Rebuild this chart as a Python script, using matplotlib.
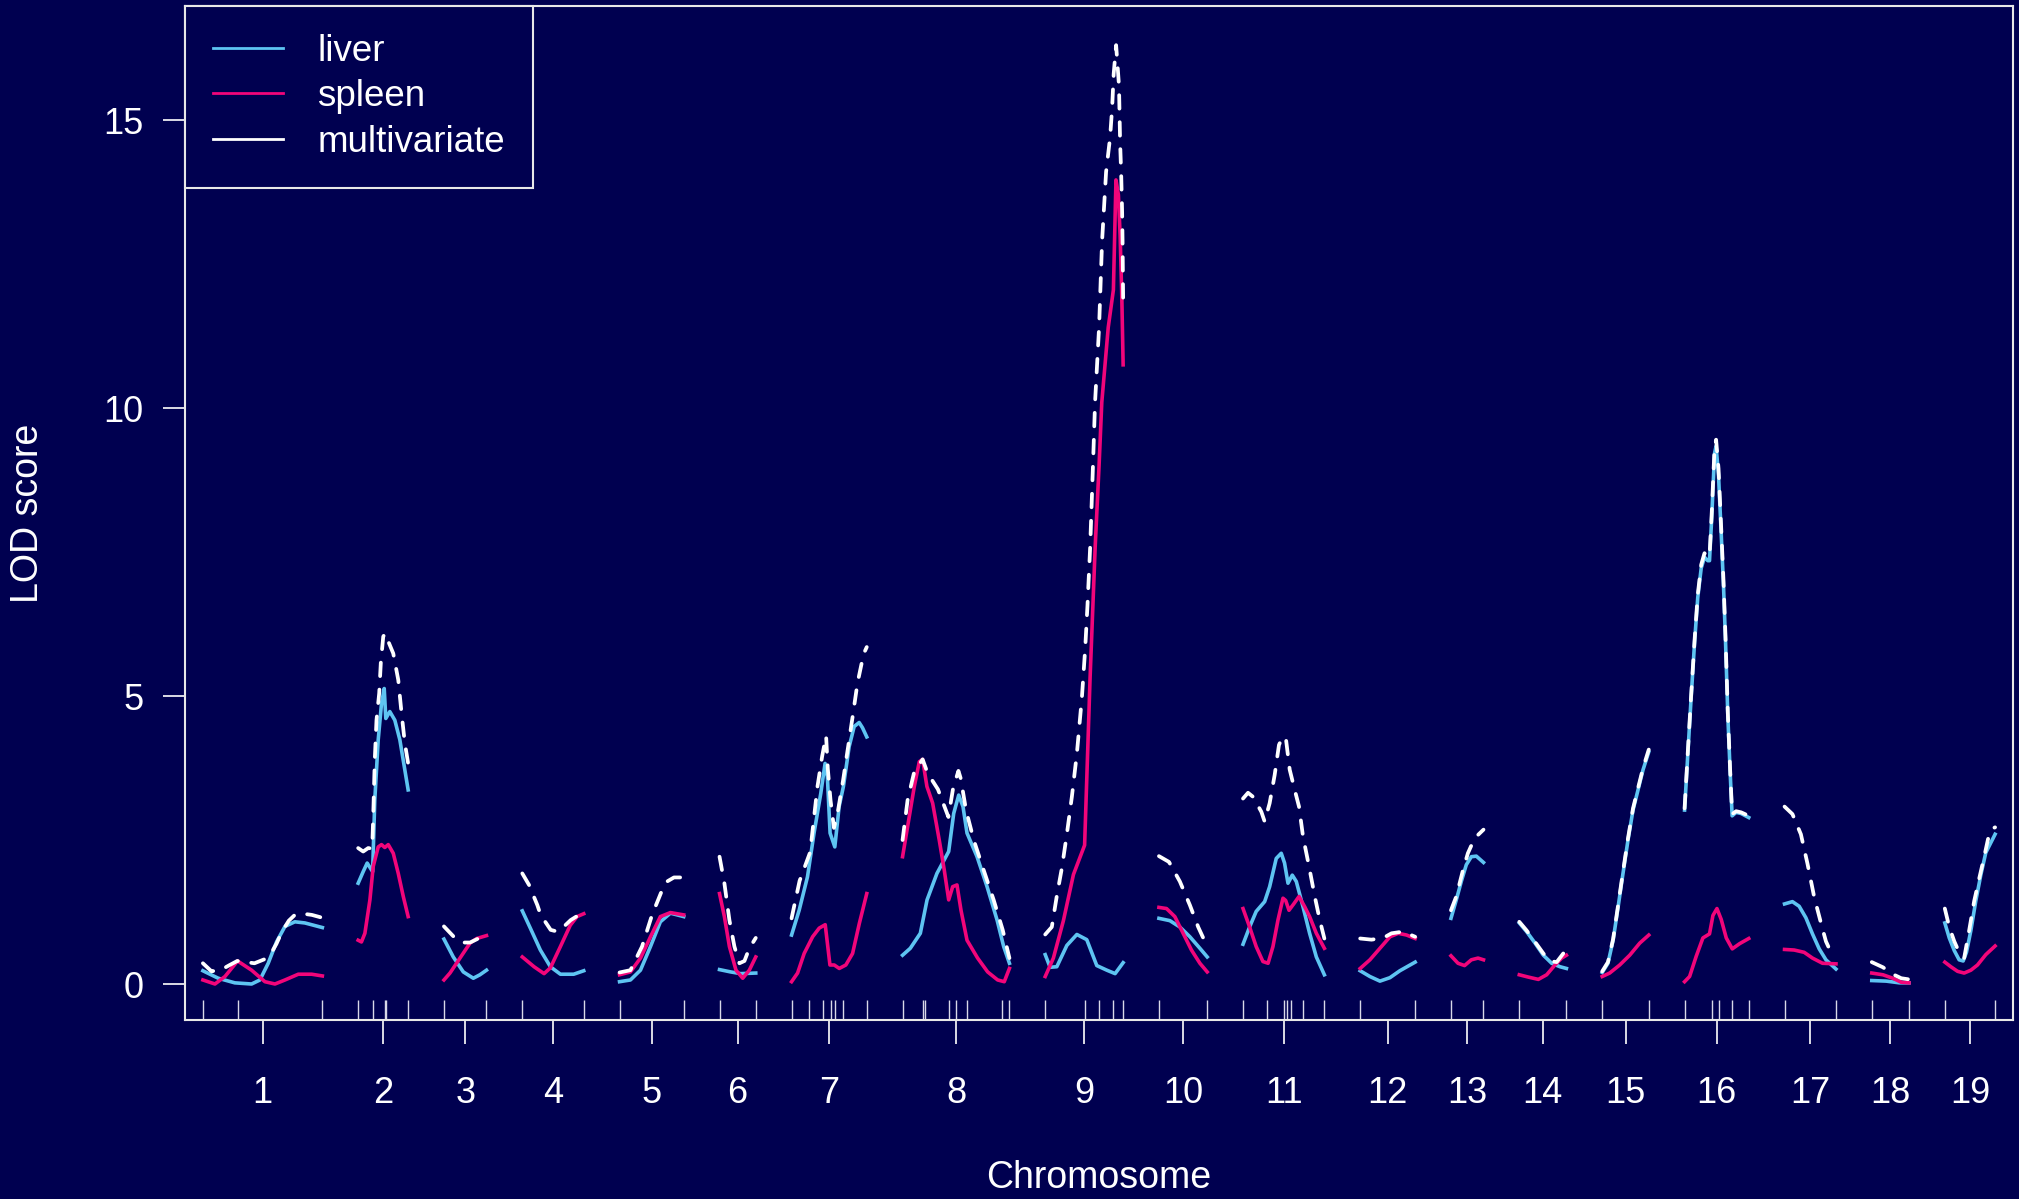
import matplotlib.pyplot as plt
from matplotlib.lines import Line2D

plt.rcParams['font.family'] = ['Liberation Sans', 'DejaVu Sans']

bg = '#000050'
fg = 'white'
liver_col = '#5EC4F2'
spleen_col = '#F2057A'
mult_col = 'white'

chroms = [str(i) for i in range(1, 20)]
# chromosome lengths (cM) and marker positions
chr_len = [83.4, 34.9, 29.7, 42.9, 44.8, 25.3, 52.5, 74.6, 54.4, 33.7,
           56.8, 38.4, 22.7, 32.9, 32.5, 44.8, 35.9, 26.0, 35.1]
markers = [
    [0, 24.4, 83.4], [0, 10.1, 18.5, 19.3, 34.9], [0, 29.7], [0, 42.9], [0, 44.8],
    [0, 25.3], [0, 12.0, 22.1, 27.2, 30.1, 36.1, 52.5],
    [0, 14.0, 16.0, 32.4, 37.6, 44.8, 69.7, 74.6], [0, 27.5, 37.3, 47.6, 54.4],
    [0, 33.7], [0, 16.6, 28.6, 30.7, 33.3, 41.8, 56.8], [0, 38.4], [0, 22.7],
    [0, 32.9], [0, 32.5], [0, 18.8, 23.9, 33.3, 44.8], [0, 35.9], [0, 26.0], [0, 35.1],
]

# liver LOD
liver_pos = [
    [0, 10.7, 22.3, 34, 39.8, 45.6, 51.4, 57.3, 64.2, 71.2, 83.4],
    [0, 3.5, 6.3, 10.1, 11.6, 14, 16.3, 18.2, 19.3, 22.1, 25.6, 29.1, 34.9],
    [0, 6.5, 13.5, 20.5, 25.1, 29.7],
    [0, 5.6, 12.6, 19.6, 26.6, 35.9, 42.9],
    [0, 7.6, 14.6, 21.6, 28.5, 35.5, 44.8],
    [0, 7.7, 14.7, 25.3],
    [0, 5.3, 11.1, 15.7, 20.4, 23.4, 25.0, 26.9, 30.2, 33.2, 36.2, 40.2, 43.7, 47.2, 49.5, 52.5],
    [0, 5.4, 12.4, 17.1, 24.0, 32.2, 35.7, 39.2, 42.2, 45.0, 52.0, 59.0, 66.0, 70.6, 74.6],
    [0, 3.4, 8.1, 15.1, 22.1, 29.0, 36.0, 43.0, 48.8, 54.4],
    [0, 7.6, 14.6, 21.6, 28.6, 33.7],
    [0, 4.6, 9.2, 15.1, 18.6, 23.2, 26.7, 29.0, 31.4, 34.4, 37.2, 41.9, 46.5, 51.2, 56.8],
    [0, 6.8, 13.8, 20.8, 27.7, 38.4],
    [0, 3.7, 7.2, 10.7, 14.2, 17.7, 22.7],
    [0, 5.1, 11.0, 16.8, 22.6, 28.4, 32.9],
    [0, 4.0, 7.6, 11.1, 14.5, 18.0, 21.5, 25.0, 28.5, 32.5],
    [0, 2.3, 4.6, 7.0, 9.2, 11.6, 13.9, 16.2, 17.4, 19.0, 20.9, 22.0, 23.7, 25.5,
     27.2, 28.6, 30.2, 31.8, 33.2, 36.0, 39.5, 44.8],
    [0, 5.5, 10.2, 14.9, 19.5, 24.2, 28.9, 35.9],
    [0, 10.1, 19.4, 26.0],
    [0, 3.1, 6.6, 10.0, 12.8, 15.1, 18.2, 21.6, 25.1, 28.6, 35.1],
]
liver_lod = [
    [0.23, 0.10, 0.02, 0.0, 0.07, 0.36, 0.73, 1.0, 1.08, 1.06, 0.98],
    [1.75, 1.95, 2.10, 1.95, 3.19, 4.24, 4.87, 5.13, 4.61, 4.73, 4.58, 4.24, 3.37],
    [0.78, 0.47, 0.21, 0.10, 0.16, 0.24],
    [1.27, 0.97, 0.59, 0.30, 0.17, 0.17, 0.23],
    [0.04, 0.07, 0.24, 0.65, 1.08, 1.23, 1.17],
    [0.25, 0.21, 0.18, 0.19],
    [0.85, 1.28, 1.86, 2.62, 3.31, 3.83, 3.6, 2.62, 2.38, 3.08, 3.43, 4.12, 4.47, 4.54, 4.45, 4.29],
    [0.50, 0.62, 0.88, 1.46, 1.92, 2.30, 2.96, 3.28, 3.08, 2.62, 2.21, 1.69, 1.11, 0.65, 0.36],
    [0.51, 0.29, 0.30, 0.67, 0.86, 0.77, 0.32, 0.24, 0.18, 0.37],
    [1.14, 1.10, 0.99, 0.82, 0.62, 0.47],
    [0.69, 0.99, 1.26, 1.43, 1.69, 2.18, 2.27, 2.10, 1.75, 1.89, 1.78, 1.34, 0.88, 0.47, 0.16],
    [0.23, 0.13, 0.05, 0.11, 0.23, 0.38],
    [1.14, 1.46, 1.78, 2.07, 2.21, 2.22, 2.11],
    [1.06, 0.91, 0.71, 0.50, 0.36, 0.30, 0.27],
    [0.20, 0.36, 0.76, 1.34, 1.92, 2.50, 3.02, 3.37, 3.72, 4.03],
    [3.02, 4.01, 4.98, 5.94, 6.71, 7.22, 7.41, 7.35, 7.35, 8.12, 9.21, 9.34, 8.83, 7.86,
     6.90, 5.94, 4.65, 3.69, 2.92, 2.98, 2.96, 2.89],
    [1.39, 1.43, 1.35, 1.15, 0.87, 0.61, 0.42, 0.26],
    [0.06, 0.05, 0.02, 0.02],
    [1.06, 0.80, 0.58, 0.42, 0.40, 0.55, 0.93, 1.44, 1.89, 2.28, 2.60],
]

# spleen LOD
spleen_pos = [
    [0, 8.4, 15.4, 24.2, 34, 43.3, 50.3, 57.3, 66.6, 75.9, 83.4],
    [0, 2.3, 4.7, 8.2, 10.5, 14, 16.3, 18.6, 21, 24.5, 28, 31.5, 34.9],
    [0, 4.2, 11.2, 18.2, 22.9, 29.7],
    [0, 8.2, 15.2, 19.6, 26.6, 33.5, 38.2, 42.9],
    [0, 7.6, 14.6, 21.6, 28.5, 35.5, 44.8],
    [0, 3.4, 6.9, 11.5, 16.2, 20.8, 25.3],
    [0, 4.2, 8.8, 14.7, 19.3, 23.5, 26.8, 29.8, 33.3, 37.9, 42.6, 47.3, 52.5],
    [0, 3.5, 8.2, 11.7, 14.0, 17.0, 21.0, 25.6, 29.1, 32.2, 35.0, 38.0, 40.8, 45.0,
     52.4, 59.4, 66.4, 71.0, 74.6],
    [0, 5.7, 12.7, 19.7, 27.5, 31.3, 34.9, 37.6, 39.5, 44.0, 47.6, 49.4, 51.1, 52.3, 53.5, 54.4],
    [0, 5.3, 11.1, 16.9, 22.7, 28.6, 33.7],
    [0, 4.6, 9.2, 13.9, 17.5, 20.9, 24.4, 27.9, 29.8, 32.1, 35.4, 39.1, 43.1, 46.5, 51.2, 56.8],
    [0, 6.8, 13.8, 20.8, 26.6, 32.4, 38.4],
    [0, 4.9, 9.5, 14.2, 18.9, 22.7],
    [0, 6.3, 13.3, 19.1, 24.9, 29.6, 32.9],
    [0, 5.2, 12.2, 19.2, 26.2, 32.5],
    [0, 3.5, 8.1, 12.8, 17.4, 19.8, 22.6, 25.6, 29.1, 33.3, 38.4, 44.8],
    [0, 6.7, 13.7, 19.5, 26.5, 35.9],
    [0, 7.8, 14.7, 20.6, 26.0],
    [0, 4.2, 8.9, 13.5, 18.2, 22.8, 28.6, 35.1],
]
spleen_lod = [
    [0.07, 0.0, 0.13, 0.40, 0.24, 0.04, 0.0, 0.07, 0.17, 0.17, 0.14],
    [0.76, 0.73, 0.88, 1.46, 2.04, 2.38, 2.42, 2.37, 2.42, 2.27, 1.92, 1.52, 1.17],
    [0.07, 0.19, 0.45, 0.71, 0.79, 0.84],
    [0.47, 0.30, 0.18, 0.28, 0.65, 1.02, 1.17, 1.22],
    [0.16, 0.21, 0.45, 0.82, 1.17, 1.24, 1.20],
    [1.57, 1.17, 0.65, 0.24, 0.10, 0.24, 0.47],
    [0.04, 0.19, 0.53, 0.82, 0.97, 1.03, 0.33, 0.33, 0.27, 0.33, 0.53, 1.05, 1.57],
    [2.21, 2.73, 3.43, 3.86, 3.90, 3.43, 3.14, 2.50, 1.98, 1.46, 1.69, 1.72, 1.28, 0.76,
     0.45, 0.21, 0.07, 0.04, 0.27],
    [0.13, 0.45, 1.10, 1.90, 2.41, 5.3, 7.6, 9.0, 10.1, 11.4, 12.05, 13.96, 13.7, 13.0, 11.9, 10.75],
    [1.33, 1.31, 1.17, 0.88, 0.59, 0.36, 0.21],
    [1.31, 0.99, 0.65, 0.39, 0.36, 0.65, 1.11, 1.49, 1.45, 1.28, 1.39, 1.52, 1.34, 1.17, 0.88, 0.62],
    [0.27, 0.42, 0.62, 0.82, 0.88, 0.85, 0.79],
    [0.49, 0.36, 0.32, 0.42, 0.45, 0.42],
    [0.16, 0.12, 0.08, 0.16, 0.33, 0.45, 0.50],
    [0.13, 0.19, 0.33, 0.50, 0.71, 0.85],
    [0.04, 0.13, 0.48, 0.80, 0.87, 1.19, 1.31, 1.12, 0.80, 0.61, 0.70, 0.79],
    [0.60, 0.59, 0.55, 0.45, 0.36, 0.35],
    [0.19, 0.16, 0.10, 0.03, 0.02],
    [0.38, 0.30, 0.22, 0.19, 0.24, 0.33, 0.51, 0.66],
]

# multivariate LOD
mult_pos = [
    [0, 6, 13, 18, 24, 30, 36, 44, 48, 51.4, 55, 60, 64.2, 70, 76, 83.4],
    [0, 3.5, 7.0, 9.8, 10.5, 11.6, 12.8, 14.7, 15.8, 17.5, 18.6, 21, 24.5, 28, 30.3, 32.6, 34.9],
    [0, 6.5, 12.3, 18.2, 24.0, 29.7],
    [0, 4.7, 10.5, 12.8, 19.8, 24.4, 27.9, 33.8, 39.6, 42.9],
    [0, 7.6, 15.7, 22.7, 29.7, 33.2, 38, 44.8],
    [0, 3.4, 6.9, 10.4, 13.9, 17.4, 20.8, 25.3],
    [0, 5.6, 13.0, 15.5, 18.1, 21.4, 24.1, 25.3, 27.2, 29.6, 32.5, 36.0, 39.5, 42.8, 46.0, 50.3, 52.5],
    [0, 3.5, 8.2, 14.0, 17.5, 24.7, 32.0, 35.3, 39.0, 40.6, 44.3, 49.7, 56.6, 63.6, 69.9, 74.6],
    [0, 4.6, 8.1, 11.6, 15.1, 18.6, 22.1, 25.6, 27.9, 29.5, 31.4, 33.2, 34.8, 37.6, 39.7,
     42.5, 45.3, 46.7, 47.8, 49.5, 51.5, 52.3, 53.0, 53.7, 54.0, 54.4],
    [0, 7.0, 14.6, 21.6, 27.4, 33.7],
    [0, 3.5, 7.0, 12.8, 15.1, 18.6, 22.1, 25.1, 27.2, 29.8, 32.6, 36.1, 39.1, 41.9, 46.1, 50.1, 53.6, 56.8],
    [0, 7.9, 16.1, 21.9, 30.0, 38.4],
    [0, 3.7, 8.4, 11.8, 15.4, 17.7, 22.7],
    [0, 5.1, 11.0, 16.8, 21.4, 26.1, 30.7, 32.9],
    [0, 4.0, 7.6, 11.1, 14.5, 18.0, 21.5, 25.0, 28.5, 32.5],
    [0, 2.3, 4.6, 7.0, 9.2, 11.6, 13.9, 16.2, 17.4, 19.0, 20.9, 22.0, 23.7, 25.5,
     27.2, 28.6, 30.2, 31.8, 33.2, 36.0, 39.5, 44.8],
    [0, 5.5, 11.4, 16.0, 20.7, 25.4, 28.9, 32.4, 35.9],
    [0, 7.8, 14.7, 20.6, 26.0],
    [0, 3.1, 6.6, 10.0, 13.5, 17.0, 20.5, 24.0, 27.5, 30.9, 33.3, 35.1],
]
mult_lod = [
    [0.36, 0.22, 0.25, 0.32, 0.40, 0.38, 0.36, 0.44, 0.55, 0.70, 0.90, 1.1, 1.2, 1.22, 1.2, 1.15],
    [2.36, 2.30, 2.36, 2.35, 2.90, 3.89, 4.58, 5.05, 5.57, 6.03, 6.09, 5.95, 5.74, 5.28, 4.70, 4.18, 3.83],
    [1.0, 0.83, 0.72, 0.72, 0.79, 0.84],
    [1.92, 1.72, 1.37, 1.2, 0.94, 0.91, 0.97, 1.11, 1.2, 1.23],
    [0.20, 0.24, 0.65, 1.2, 1.63, 1.78, 1.85, 1.85],
    [2.21, 1.75, 1.11, 0.65, 0.36, 0.40, 0.62, 0.80],
    [1.14, 1.79, 2.29, 2.85, 3.43, 3.96, 4.31, 3.74, 3.19, 2.71, 3.02, 3.54, 4.12, 4.67, 5.22, 5.73, 5.85],
    [2.5, 3.19, 3.69, 3.90, 3.66, 3.38, 2.90, 3.40, 3.7, 3.57, 3.02, 2.50, 1.98, 1.46, 0.94, 0.45],
    [0.86, 0.99, 1.53, 2.01, 2.60, 3.25, 4.0, 4.97, 5.82, 6.57, 7.6, 8.9, 10.1, 11.4, 12.9,
     14.1, 14.7, 15.2, 15.8, 16.3, 15.6, 14.6, 14.1, 13.4, 12.9, 11.9],
    [2.22, 2.12, 1.78, 1.37, 0.99, 0.65],
    [3.22, 3.32, 3.25, 2.99, 2.82, 3.14, 3.63, 4.15, 4.27, 4.29, 3.72, 3.37, 3.08, 2.56, 2.04, 1.52, 1.11, 0.79],
    [0.79, 0.77, 0.80, 0.88, 0.91, 0.82],
    [1.28, 1.52, 1.98, 2.27, 2.47, 2.56, 2.68],
    [1.08, 0.93, 0.73, 0.53, 0.40, 0.38, 0.53, 0.60],
    [0.22, 0.38, 0.78, 1.37, 1.95, 2.53, 3.05, 3.40, 3.75, 4.07],
    [3.05, 4.05, 5.02, 5.98, 6.76, 7.28, 7.48, 7.42, 7.42, 8.2, 9.3, 9.45, 8.95, 7.95,
     6.98, 6.0, 4.7, 3.72, 2.95, 3.0, 2.98, 2.92],
    [3.08, 2.95, 2.60, 2.09, 1.51, 1.06, 0.74, 0.55, 0.48],
    [0.38, 0.29, 0.17, 0.10, 0.08],
    [1.31, 0.99, 0.74, 0.55, 0.45, 0.93, 1.44, 1.83, 2.21, 2.60, 2.70, 2.72],
]

gap = 25
starts = []
s = 0
for L in chr_len:
    starts.append(s)
    s += L + gap
total = starts[-1] + chr_len[-1]

fig = plt.figure(figsize=(20.19, 11.99), dpi=100, facecolor=bg)
ax = fig.add_axes([185 / 2019, 179 / 1199, (2013 - 185) / 2019, (1020 - 6) / 1199])
ax.set_facecolor(bg)

ylo, yhi = -0.625, 16.98
for i in range(len(chroms)):
    off = starts[i]
    ax.plot([off + p for p in liver_pos[i]], liver_lod[i], color=liver_col, lw=2.6,
            solid_joinstyle='round', zorder=3)
    ax.plot([off + p for p in spleen_pos[i]], spleen_lod[i], color=spleen_col, lw=2.6,
            solid_joinstyle='round', zorder=4)
    ax.plot([off + p for p in mult_pos[i]], mult_lod[i], color=mult_col, lw=2.7,
            linestyle=(0, (3.6, 3.6)), dash_capstyle='round', zorder=5)
    ax.vlines([off + m for m in markers[i]], ylo, ylo + 0.35, color='#D8D8E8', lw=1.0)

ax.set_xlim(-gap / 2, total + gap / 2)
ax.set_ylim(ylo, yhi)

ax.set_xticks([starts[i] + chr_len[i] / 2 for i in range(len(chroms))])
ax.set_xticklabels(chroms)
ax.set_yticks([0, 5, 10, 15])
ax.tick_params(axis='x', colors=fg, labelsize=26, length=17, width=1.2, pad=23)
ax.tick_params(axis='y', colors=fg, labelsize=26, length=16, width=1.2, pad=14)
for sp in ax.spines.values():
    sp.set_color('#E8E8E8')
    sp.set_linewidth(1.5)

fig.text(1099 / 2019, 1 - 1178 / 1199, 'Chromosome', color=fg, fontsize=27,
         ha='center', va='center')
fig.text(28 / 2019, 1 - 513 / 1199, 'LOD score', color=fg, fontsize=27,
         ha='center', va='center', rotation=90)

handles = [Line2D([], [], color=liver_col, lw=2),
           Line2D([], [], color=spleen_col, lw=2),
           Line2D([], [], color=mult_col, lw=2)]
leg = ax.legend(handles, ['liver', 'spleen', 'multivariate'], loc='upper left',
                fontsize=26.5, frameon=True, fancybox=False, borderaxespad=0,
                handlelength=1.9, handletextpad=0.95, borderpad=0.75, labelspacing=0.29,
                facecolor=bg, edgecolor='#E8E8E8', framealpha=1)
leg.get_frame().set_linewidth(1.5)
for t in leg.get_texts():
    t.set_color(fg)

fig.savefig('out.png', dpi=100, facecolor=bg)
